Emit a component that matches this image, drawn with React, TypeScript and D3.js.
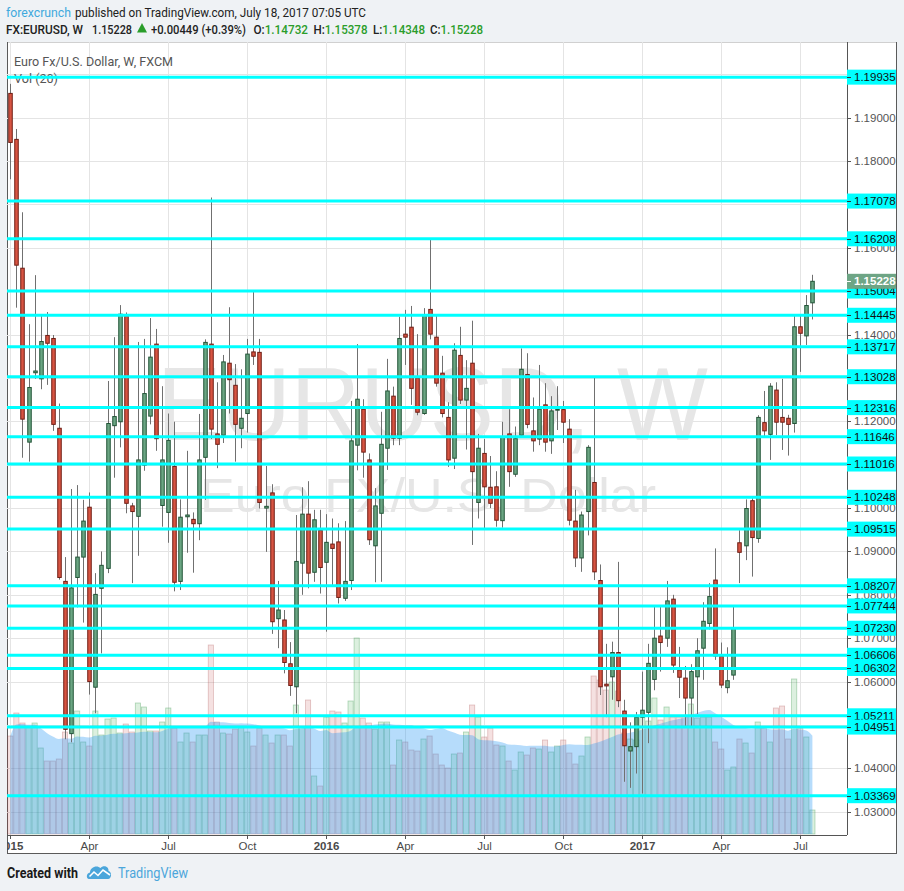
import React from 'react'
import * as d3 from 'd3'

// weekly bars, EUR/USD, first bar = week of 2015-01-05
const FIRST_WEEK = '2015-01-05'

const opens = [
  1.1956, 1.185, 1.1553, 1.1152, 1.1312, 1.1298, 1.1398, 1.1391, 1.1184, 1.0831,
  1.048, 1.084, 1.0887, 1.1002, 1.0587, 1.0815, 1.0861, 1.119, 1.1199, 1.1443,
  1.1005, 1.0981, 1.1099, 1.1212, 1.1378, 1.1006, 1.099, 1.1096, 1.0831, 1.098,
  1.0974, 1.0964, 1.1117, 1.1378, 1.1171, 1.1168, 1.1334, 1.1283, 1.1184, 1.1218,
  1.136, 1.1359, 1.1, 1.1035, 1.0745, 1.0742, 1.0641, 1.0588, 1.0873, 1.0986,
  1.0852, 1.0949, 1.0875, 1.0917, 1.0922, 1.0792, 1.0833, 1.1145, 1.1228, 1.1111,
  1.0913, 1.0988, 1.1138, 1.1258, 1.1161, 1.1401, 1.1417, 1.13, 1.1218, 1.1458,
  1.1394, 1.1311, 1.1209, 1.1115, 1.1352, 1.1249, 1.1334, 1.1013, 1.1126, 1.1048,
  1.1049, 1.0971, 1.1171, 1.1078, 1.1168, 1.1308, 1.1178, 1.1159, 1.1238, 1.1155,
  1.1226, 1.1227, 1.1182, 1.097, 1.0885, 1.0992, 1.1059, 1.0833, 1.0594, 1.0611,
  1.0667, 1.0532, 1.044, 1.045, 1.0518, 1.0529, 1.0605, 1.0705, 1.07, 1.079,
  1.0627, 1.0608, 1.0562, 1.0611, 1.0677, 1.0734, 1.0834, 1.0658, 1.0586, 1.0615,
  1.092, 1.0913, 1.1017, 1.093, 1.1197, 1.117, 1.1272, 1.1209, 1.1207, 1.1195,
  1.1418, 1.1397, 1.14732,
]
const highs = [
  1.1978, 1.1874, 1.1682, 1.1424, 1.1537, 1.1444, 1.1452, 1.1399, 1.1241, 1.0887,
  1.1044, 1.1053, 1.1019, 1.1036, 1.085, 1.09, 1.1293, 1.1394, 1.1468, 1.1451,
  1.1012, 1.1383, 1.139, 1.1438, 1.1413, 1.1281, 1.1218, 1.1199, 1.102, 1.1132,
  1.099, 1.1217, 1.1389, 1.1716, 1.129, 1.1353, 1.1463, 1.1332, 1.132, 1.139,
  1.1498, 1.139, 1.1097, 1.1055, 1.0832, 1.0765, 1.0691, 1.0984, 1.1048, 1.1062,
  1.0996, 1.0996, 1.0986, 1.0976, 1.0965, 1.097, 1.1247, 1.1378, 1.1251, 1.1126,
  1.1046, 1.1222, 1.1344, 1.128, 1.1441, 1.1457, 1.1466, 1.1401, 1.1461, 1.1618,
  1.1443, 1.1351, 1.1244, 1.138, 1.1418, 1.1341, 1.1432, 1.1171, 1.1159, 1.112,
  1.1085, 1.1199, 1.1228, 1.1188, 1.1368, 1.1357, 1.1255, 1.133, 1.1288, 1.1258,
  1.1281, 1.1247, 1.1205, 1.1042, 1.0992, 1.1145, 1.1301, 1.087, 1.0687, 1.0692,
  1.0876, 1.0558, 1.0506, 1.053, 1.0623, 1.0687, 1.0775, 1.0775, 1.0832, 1.08,
  1.068, 1.0636, 1.064, 1.07, 1.0783, 1.0827, 1.0907, 1.069, 1.0679, 1.0773,
  1.0949, 1.102, 1.1023, 1.1214, 1.127, 1.1288, 1.129, 1.1298, 1.1215, 1.1445,
  1.1445, 1.1491, 1.15378,
]
const lows = [
  1.1758, 1.1462, 1.1116, 1.1107, 1.1298, 1.1274, 1.1284, 1.1178, 1.0835, 1.0467,
  1.046, 1.0771, 1.0736, 1.057, 1.0527, 1.0665, 1.085, 1.107, 1.114, 1.0988,
  1.0827, 1.089, 1.1086, 1.1193, 1.1132, 1.0957, 1.092, 1.0808, 1.0811, 1.0897,
  1.0851, 1.0926, 1.1019, 1.1159, 1.1092, 1.115, 1.1218, 1.1107, 1.1138, 1.1174,
  1.133, 1.0999, 1.0899, 1.071, 1.0677, 1.0619, 1.0567, 1.0527, 1.08, 1.0815,
  1.083, 1.0803, 1.0715, 1.0819, 1.078, 1.0786, 1.0811, 1.1087, 1.107, 1.0915,
  1.0829, 1.083, 1.1088, 1.1145, 1.1145, 1.133, 1.1238, 1.1214, 1.1215, 1.1389,
  1.128, 1.1209, 1.1095, 1.109, 1.124, 1.1135, 1.0915, 1.0976, 1.095, 1.1,
  1.0957, 1.0955, 1.1049, 1.1072, 1.1164, 1.1184, 1.113, 1.1145, 1.113, 1.1125,
  1.118, 1.115, 1.096, 1.0864, 1.0853, 1.0937, 1.0834, 1.0569, 1.0518, 1.0558,
  1.0541, 1.0369, 1.0355, 1.0388, 1.0342, 1.0458, 1.058, 1.0623, 1.068, 1.062,
  1.0562, 1.0495, 1.0495, 1.0525, 1.0604, 1.072, 1.065, 1.0585, 1.0573, 1.0604,
  1.0827, 1.088, 1.0842, 1.092, 1.1165, 1.1111, 1.1168, 1.1134, 1.1121, 1.1174,
  1.1314, 1.1376, 1.14348,
]
const closes = [
  1.1843, 1.156, 1.1205, 1.1278, 1.1316, 1.1384, 1.138, 1.1193, 1.084, 1.049,
  1.0816, 1.0887, 1.097, 1.06, 1.0801, 1.0868, 1.1195, 1.1211, 1.1447, 1.1011,
  1.0992, 1.1111, 1.1264, 1.1348, 1.116, 1.1111, 1.1156, 1.0829, 1.0979, 1.0984,
  1.0964, 1.1111, 1.1382, 1.1182, 1.1147, 1.1337, 1.1296, 1.1193, 1.1207, 1.1355,
  1.135, 1.1013, 1.1004, 1.0738, 1.0765, 1.0644, 1.0591, 1.0877, 1.0986, 1.085,
  1.0973, 1.0863, 1.0921, 1.0907, 1.0794, 1.0831, 1.1155, 1.1251, 1.1129, 1.0927,
  1.1005, 1.1147, 1.127, 1.1161, 1.1391, 1.1394, 1.1276, 1.1221, 1.1445, 1.1401,
  1.1288, 1.1218, 1.1111, 1.1364, 1.1249, 1.1276, 1.1084, 1.1138, 1.1049, 1.1011,
  1.0972, 1.1163, 1.1084, 1.116, 1.132, 1.1193, 1.1155, 1.1228, 1.1152, 1.1224,
  1.1228, 1.1198, 1.0972, 1.0885, 1.0984, 1.114, 1.0853, 1.0588, 1.059, 1.0667,
  1.0556, 1.0452, 1.045, 1.0518, 1.0534, 1.0642, 1.07, 1.069, 1.0786, 1.0638,
  1.061, 1.0562, 1.0623, 1.0671, 1.0739, 1.0796, 1.0659, 1.0592, 1.0602, 1.0723,
  1.0898, 1.0999, 1.0932, 1.1209, 1.1178, 1.1281, 1.1198, 1.1198, 1.1193, 1.1418,
  1.1403, 1.1467, 1.15228,
]
// weekly volume (thousands of ticks)
const volumes = [
  98, 121, 111, 107, 111, 86, 73, 73, 75, 102, 91, 123, 92, 88, 123, 99, 115, 116, 101, 110,
  102, 131, 127, 103, 103, 112, 126, 106, 92, 101, 92, 99, 99, 189, 112, 101, 100, 105, 107, 102,
  88, 106, 99, 91, 99, 99, 88, 129, 107, 134, 58, 48, 117, 123, 122, 111, 133, 196, 116, 111,
  105, 112, 112, 69, 94, 92, 84, 83, 95, 98, 80, 69, 66, 80, 81, 102, 129, 117, 97, 106,
  89, 88, 73, 64, 82, 79, 86, 85, 94, 82, 88, 94, 81, 70, 78, 97, 158, 154, 144, 152,
  143, 101, 95, 94, 117, 113, 136, 114, 127, 117, 117, 117, 130, 116, 117, 117, 92, 85, 64, 67,
  95, 91, 81, 112, 106, 92, 126, 128, 95, 155, 106, 97, 24,
]

// horizontal support / resistance levels drawn on the chart
const levels = [
  1.19935, 1.17078, 1.16208, 1.15004, 1.14445, 1.13717, 1.13028, 1.12316, 1.11646, 1.11016,
  1.10248, 1.09515, 1.08207, 1.07744, 1.0723, 1.06606, 1.06302, 1.05211, 1.04951, 1.03369,
]
const priceTicks = [
  1.03, 1.04, 1.05, 1.06, 1.07, 1.08, 1.09, 1.1, 1.11, 1.12, 1.13, 1.14, 1.15, 1.16, 1.17, 1.18, 1.19, 1.2,
]
const timeTickDates = [
  '2015-01-05', '2015-04-06', '2015-07-06', '2015-10-05', '2016-01-04', '2016-04-04',
  '2016-07-04', '2016-10-03', '2017-01-02', '2017-04-03', '2017-07-03',
]
const timeTickLabels = ['2015', 'Apr', 'Jul', 'Oct', '2016', 'Apr', 'Jul', 'Oct', '2017', 'Apr', 'Jul']

const LAST_PRICE = 1.15228

// header line 2: [label, value, x, width]
const quoteParts: [string, string, number, number][] = [
  ['FX:EURUSD, W', '', 6, 77],
  ['1.15228', '', 92, 40],
  ['+0.00449 (+0.39%)', '', 151, 95],
  ['O:', '1.14732', 253.5, 54.5],
  ['H:', '1.15378', 313.5, 54],
  ['L:', '1.14348', 373, 52],
  ['C:', '1.15228', 430, 53],
]

const App = () => {
  const W = 904
  const H = 891
  const left = 7
  const right = 847
  const top = 42
  const bottom = 835

  const parse = d3.timeParse('%Y-%m-%d')
  const first = parse(FIRST_WEEK) as Date
  const dates = opens.map((_, i) => d3.timeWeek.offset(first, i))

  const x = d3
    .scaleTime()
    .domain([dates[0], dates[dates.length - 1]])
    .range([10.3, 812.4])
  const y = d3.scaleLinear().domain([1.03, 1.19]).range([811.7, 117.7])
  const yv = d3.scaleLinear().domain([0, 200]).range([834, 634])

  const ma = volumes.map((_, i) => d3.mean(volumes.slice(Math.max(0, i - 19), i + 1)) as number)
  const maArea = d3
    .area<number>()
    .x((_, i) => x(dates[i]))
    .y0(834)
    .y1(d => yv(d))
    .curve(d3.curveMonotoneX)

  const fmt = (v: number) => v.toFixed(5)
  const sans = 'Liberation Sans, Arial, sans-serif'
  const ui = 'Roboto, Liberation Sans, sans-serif'
  const green = '#2a9d2a'

  // grey price labels that sit completely under a level box are not drawn
  const visibleTicks = priceTicks.filter(
    p => y(p) > top + 6 && !levels.some(l => Math.abs(y(l) - y(p)) < 4.5),
  )

  return (
    <div style={{ position: 'absolute', left: 0, top: 0 }}>
      <svg width={W} height={H} style={{ display: 'block' }}>
        <defs>
          <clipPath id='plot'>
            <rect x={left} y={top} width={right - left} height={bottom - top} />
          </clipPath>
          <clipPath id='xaxis'>
            <rect x={left} y={bottom} width={right - left} height={20} />
          </clipPath>
        </defs>
        <rect x={0} y={0} width={W} height={H} fill='#eff2f5' />

        {/* header */}
        <text x={6} y={16.5} fontFamily={ui} fontSize={13.5} fill='#3fa9dd' textLength={65} lengthAdjust='spacingAndGlyphs'>
          forexcrunch
        </text>
        <text x={75} y={16.5} fontFamily={ui} fontSize={13.5} fill='#222' textLength={291} lengthAdjust='spacingAndGlyphs'>
          published on TradingView.com, July 18, 2017 07:05 UTC
        </text>
        {quoteParts.map(([label, value, px, w], i) => (
          <text
            key={'q' + i}
            x={px}
            y={33.5}
            fontFamily={ui}
            fontSize={13.5}
            fontWeight={500}
            fill='#222'
            textLength={w}
            lengthAdjust='spacingAndGlyphs'
          >
            {label}
            {value && <tspan fill={green}>{value}</tspan>}
          </text>
        ))}
        <polygon points='137,32.5 147,32.5 142,23' fill={green} />

        {/* chart frame */}
        <rect x={left} y={top} width={897 - left} height={854 - top} fill='#fff' />
        <line x1={left} x2={897} y1={top + 0.5} y2={top + 0.5} stroke='#d0d0d0' />
        <line x1={left + 0.5} x2={left + 0.5} y1={top} y2={854} stroke='#5a5a5a' />
        <line x1={896.5} x2={896.5} y1={top} y2={854} stroke='#5a5a5a' />
        <line x1={left} x2={897} y1={853.5} y2={853.5} stroke='#5a5a5a' />

        <g clipPath='url(#plot)'>
          {/* grid */}
          {priceTicks.map(p => (
            <line key={'h' + p} x1={left} x2={right} y1={Math.round(y(p)) + 0.5} y2={Math.round(y(p)) + 0.5} stroke='#e4e4e4' />
          ))}
          {timeTickDates.map(d => {
            const xx = Math.round(x(parse(d) as Date)) + 0.5
            return <line key={'v' + d} x1={xx} x2={xx} y1={top} y2={bottom} stroke='#e4e4e4' />
          })}

          {/* watermark */}
          <text x={157} y={440} fontFamily={sans} fontSize={104} fill='#e6e6e6' textLength={551} lengthAdjust='spacingAndGlyphs'>
            EURUSD, W
          </text>
          <text x={200} y={511.5} fontFamily={sans} fontSize={48} fill='#e6e6e6' textLength={456} lengthAdjust='spacingAndGlyphs'>
            Euro FX/U.S. Dollar
          </text>

          {/* volume */}
          {volumes.map((v, i) => {
            const up = closes[i] >= opens[i]
            const cx = x(dates[i])
            return (
              <rect
                key={'vol' + i}
                x={cx - 2.6}
                y={yv(v)}
                width={5.2}
                height={834 - yv(v)}
                fill={up ? 'rgba(60,170,80,0.18)' : 'rgba(200,90,90,0.18)'}
                stroke={up ? 'rgba(40,140,60,0.35)' : 'rgba(160,60,60,0.3)'}
                strokeWidth={0.8}
              />
            )
          })}
          <path d={maArea(ma) || ''} fill='#2196f3' fillOpacity={0.33} />

          {/* candles */}
          {opens.map((o, i) => {
            const c = closes[i]
            const up = c >= o
            const cx = Math.round(x(dates[i])) + 0.5
            const yTop = y(Math.max(o, c))
            const h = Math.max(Math.abs(y(o) - y(c)), 1)
            return (
              <g key={'c' + i}>
                <line x1={cx} x2={cx} y1={y(highs[i])} y2={y(lows[i])} stroke='#707070' strokeWidth={1} />
                <rect
                  x={cx - 1.75}
                  y={yTop}
                  width={3.5}
                  height={h}
                  fill={up ? '#6ba583' : '#d75442'}
                  stroke={up ? '#225437' : '#6f1d14'}
                  strokeWidth={1}
                />
              </g>
            )
          })}

          {/* legend */}
          <text x={14} y={65.5} fontFamily={ui} fontSize={13} fill='#555' textLength={159} lengthAdjust='spacingAndGlyphs'>
            Euro Fx/U.S. Dollar, W, FXCM
          </text>
          <text x={14} y={83} fontFamily={ui} fontSize={13} fill='#555' textLength={44} lengthAdjust='spacingAndGlyphs'>
            Vol (20)
          </text>

          {/* levels */}
          {levels.map(l => (
            <line key={'l' + l} x1={left} x2={right} y1={y(l)} y2={y(l)} stroke='#00ffff' strokeWidth={3} />
          ))}
        </g>

        {/* axes */}
        <line x1={right + 0.5} x2={right + 0.5} y1={top} y2={bottom} stroke='#555' />
        <line x1={left} x2={right} y1={bottom + 0.5} y2={bottom + 0.5} stroke='#555' />

        {visibleTicks.map(p => (
          <g key={'pt' + p}>
            <line x1={right} x2={right + 4} y1={Math.round(y(p)) + 0.5} y2={Math.round(y(p)) + 0.5} stroke='#555' />
            <text x={854} y={y(p) + 4} fontFamily={sans} fontSize={11.5} fill='#555'>
              {fmt(p)}
            </text>
          </g>
        ))}

        {levels.map(l => (
          <g key={'lb' + l}>
            <rect x={right} y={y(l) - 7.5} width={49} height={15} fill='#00ffff' />
            <line x1={right} x2={right + 4} y1={Math.round(y(l)) + 0.5} y2={Math.round(y(l)) + 0.5} stroke='#333' />
            <text x={854} y={y(l) + 4} fontFamily={sans} fontSize={11.5} fill='#111'>
              {fmt(l)}
            </text>
          </g>
        ))}

        <g>
          <rect x={right} y={y(LAST_PRICE) - 7.5} width={49} height={15} fill='#6ea585' />
          <line x1={right} x2={right + 4} y1={Math.round(y(LAST_PRICE)) + 0.5} y2={Math.round(y(LAST_PRICE)) + 0.5} stroke='#fff' />
          <text x={854} y={y(LAST_PRICE) + 4} fontFamily={sans} fontSize={11.5} fontWeight='bold' fill='#fff'>
            {fmt(LAST_PRICE)}
          </text>
        </g>

        <g clipPath='url(#xaxis)'>
          {timeTickDates.map((d, i) => {
            const xx = Math.round(x(parse(d) as Date)) + 0.5
            const isYear = /^\d{4}$/.test(timeTickLabels[i])
            return (
              <g key={'tt' + d}>
                <line x1={xx} x2={xx} y1={bottom} y2={bottom + 4} stroke='#555' />
                <text
                  x={xx}
                  y={850}
                  textAnchor='middle'
                  fontFamily={sans}
                  fontSize={11.5}
                  fontWeight={isYear ? 'bold' : 'normal'}
                  fill='#4a4a4a'
                >
                  {timeTickLabels[i]}
                </text>
              </g>
            )
          })}
        </g>

        {/* footer */}
        <text x={7} y={878} fontFamily={ui} fontSize={14} fontWeight='bold' fill='#1a1a1a' textLength={71} lengthAdjust='spacingAndGlyphs'>
          Created with
        </text>
        <path
          d='M89,879 C86,879 86,873 90,872.5 C90,867 97,864.5 100.5,868 C103,865 109,866 108.5,871 C112,871.5 112,879 108,879 Z'
          fill='#4ba6db'
        />
        <polyline points='89.5,876.5 94,872 98,875.5 103,870 110,875' fill='none' stroke='#fff' strokeWidth={1.6} />
        <text x={118} y={878} fontFamily={ui} fontSize={14} fill='#4ba6db' textLength={70} lengthAdjust='spacingAndGlyphs'>
          TradingView
        </text>
      </svg>
    </div>
  )
}

export default App
